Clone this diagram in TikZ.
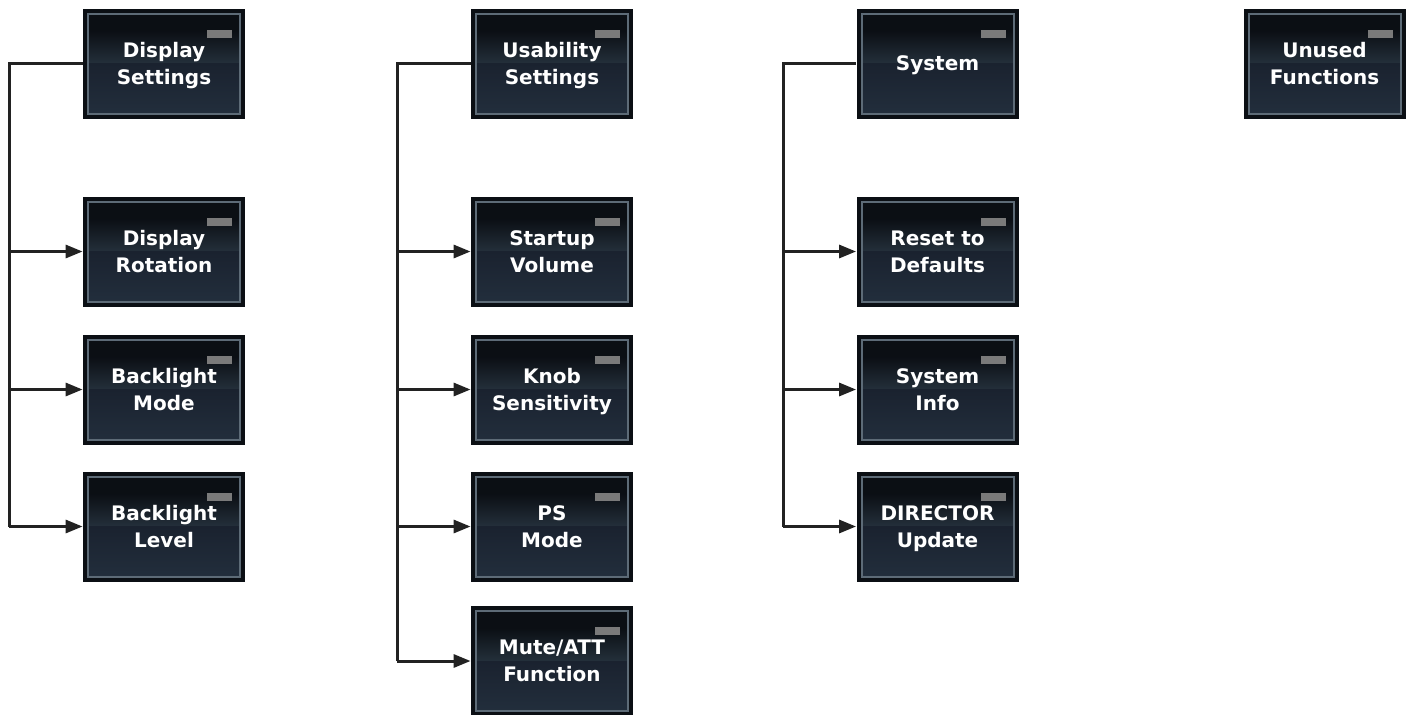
\documentclass[tikz,border=0pt]{standalone}
\usepackage{fontspec}
\setmainfont{DejaVu Sans}
\usetikzlibrary{arrows.meta, calc}
\definecolor{btnedge}{RGB}{11,15,20}
\definecolor{btnrim}{RGB}{93,107,119}
\definecolor{btntop}{RGB}{66,88,106}
\definecolor{btnlow}{RGB}{26,34,47}
\definecolor{btnbase}{RGB}{34,46,60}
\definecolor{btnled}{RGB}{122,122,122}
\definecolor{wire}{RGB}{34,34,34}
\pgfdeclareverticalshading{btnglow}{100bp}{color(0bp)=(btntop); color(25bp)=(btntop);
  color(45bp)=(btntop!60!btnedge); color(65bp)=(btnedge); color(100bp)=(btnedge)}

\tikzset{
  btn/.style={minimum width=81pt, minimum height=55pt, inner sep=0pt,
    fill=btnedge, align=center, text=white, text depth=0pt,
    font=\bfseries\fontsize{10}{13.5}\selectfont,
    path picture={
      % upper half: dark to light
      \shade[shading=btnglow]
        ($(path picture bounding box.north west)+(2.5pt,-2.5pt)$)
        rectangle ($(path picture bounding box.east)+(-2.5pt,0)$);
      % lower half
      \shade[top color=btnlow, bottom color=btnbase]
        ($(path picture bounding box.west)+(2.5pt,0)$)
        rectangle ($(path picture bounding box.south east)+(-2.5pt,2.5pt)$);
      % rim
      \draw[btnrim, line width=1pt]
        ($(path picture bounding box.north west)+(2.5pt,-2.5pt)$)
        rectangle ($(path picture bounding box.south east)+(-2.5pt,2.5pt)$);
      % led
      \fill[btnled] ($(path picture bounding box.center)+(21.5pt,17pt)$)
        rectangle ($(path picture bounding box.center)+(34pt,13pt)$);
    }},
  wire/.style={draw=wire, line width=1.5pt},
  arr/.style={wire, -{Triangle[length=8.5pt, width=6.5pt]}}
}

\begin{document}
\begin{tikzpicture}[x=0.5pt, y=-0.5pt]
    \useasboundingbox (0,0) rectangle (1408,714);
    % Display column
    \node[btn] (dispSet) at (164,63.5) {Display\\Settings};
    \node[btn] (dispRot) at (164,251.5) {Display\\Rotation};
    \node[btn] (blMode) at (164,389.5) {Backlight\\Mode};
    \node[btn] (blLevel) at (164,526.5) {Backlight\\Level};
    % Usability column
    \node[btn] (useSet) at (552,63.5) {Usability\\Settings};
    \node[btn] (startVol) at (552,251.5) {Startup\\Volume};
    \node[btn] (knobSens) at (552,389.5) {Knob\\Sensitivity};
    \node[btn] (psMode) at (552,526.5) {PS\\Mode};
    \node[btn] (muteAtt) at (552,661) {Mute/ATT\\Function};
    % System column
    \node[btn] (system) at (937.5,63.5) {System};
    \node[btn] (resetDef) at (937.5,251.5) {Reset to\\Defaults};
    \node[btn] (sysInfo) at (937.5,389.5) {System\\Info};
    \node[btn] (dirUpd) at (937.5,526.5) {DIRECTOR\\Update};
    % Unused
    \node[btn] (unused) at (1324.5,63.5) {Unused\\Functions};

    % Trunks
    \coordinate (tDisp) at (9,63.5);
    \coordinate (tUse) at (397,63.5);
    \coordinate (tSys) at (783,63.5);
    \draw[wire] (dispSet.west) -- (tDisp) -- (tDisp |- blLevel.west);
    \draw[wire] (useSet.west) -- (tUse) -- (tUse |- muteAtt.west);
    \draw[wire] (system.west) -- (tSys) -- (tSys |- dirUpd.west);
    % Branches
    \foreach \b in {dispRot, blMode, blLevel}
        \draw[arr] (tDisp |- \b.west) -- (\b.west);
    \foreach \b in {startVol, knobSens, psMode, muteAtt}
        \draw[arr] (tUse |- \b.west) -- (\b.west);
    \foreach \b in {resetDef, sysInfo, dirUpd}
        \draw[arr] (tSys |- \b.west) -- (\b.west);
\end{tikzpicture}
\end{document}
